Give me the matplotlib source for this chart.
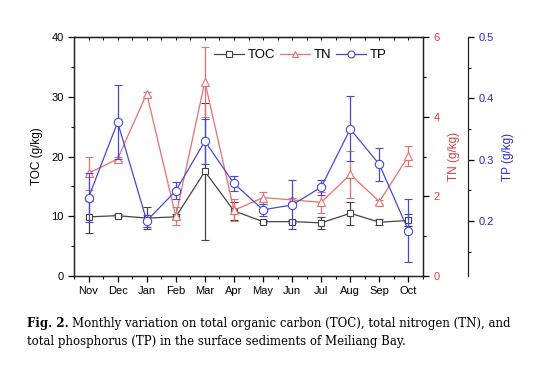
import numpy as np
import matplotlib.pyplot as plt
from matplotlib.ticker import MultipleLocator
from matplotlib.lines import Line2D

plt.rcParams['font.family'] = ['Liberation Sans', 'DejaVu Sans']

months = ['Nov', 'Dec', 'Jan', 'Feb', 'Mar', 'Apr', 'May', 'Jun', 'Jul', 'Aug', 'Sep', 'Oct']

toc = [9.9, 10.1, 9.7, 9.9, 17.5, 10.9, 9.1, 9.1, 8.9, 10.5, 9.0, 9.3]
toc_err = [2.7, 0.3, 1.8, 0.4, 11.5, 1.5, 0.3, 0.3, 1.0, 1.9, 0.5, 1.0]

tn = [2.58, 2.94, 4.58, 1.50, 4.88, 1.65, 1.97, 1.91, 1.85, 2.55, 1.87, 3.01]
tn_err = [0.42, 0.05, 0.05, 0.23, 0.88, 0.28, 0.15, 0.05, 0.27, 0.60, 0.05, 0.26]

tp = [0.238, 0.361, 0.200, 0.249, 0.330, 0.261, 0.218, 0.226, 0.255, 0.350, 0.292, 0.184]
tp_err = [0.040, 0.060, 0.010, 0.014, 0.037, 0.013, 0.010, 0.040, 0.012, 0.053, 0.027, 0.051]

c_toc = '#444444'
c_tn = '#e87070'
c_tp = '#4848d8'
c_tn_ax = '#e03c3c'
c_tp_ax = '#2a2ad0'

x = np.arange(len(months))

fig = plt.figure(figsize=(5.39, 3.74), dpi=100)
ax = fig.add_axes([0.1373, 0.262, 0.6475, 0.639])
ax2 = ax.twinx()
ax3 = ax.twinx()
ax3.spines['right'].set_position(('axes', 1.129))

# 三组数据带误差棒
kw = dict(lw=0.9, capsize=3, elinewidth=0.9, capthick=0.9,
          markerfacecolor='white', markeredgewidth=0.8)
ax.errorbar(x, toc, yerr=toc_err, color=c_toc, marker='s', markersize=5, **kw)
ax2.errorbar(x, tn, yerr=tn_err, color=c_tn, marker='^', markersize=6, **kw)
ax3.errorbar(x, tp, yerr=tp_err, color=c_tp, marker='o', markersize=6, **kw)

ax.set_xlim(-0.5, 11.5)
ax.set_ylim(0, 40)
ax2.set_ylim(0, 6)
ax3.set_ylim(0.11, 0.5)

ax.set_xticks(x)
ax.set_xticklabels(months)
ax.xaxis.set_minor_locator(MultipleLocator(0.5))
ax.yaxis.set_major_locator(MultipleLocator(10))
ax.yaxis.set_minor_locator(MultipleLocator(5))
ax2.yaxis.set_major_locator(MultipleLocator(2))
ax2.yaxis.set_minor_locator(MultipleLocator(1))
ax3.yaxis.set_major_locator(MultipleLocator(0.1))
ax3.yaxis.set_minor_locator(MultipleLocator(0.05))

ax.tick_params(axis='both', which='major', direction='out', length=4, width=0.9, labelsize=8)
ax.tick_params(axis='both', which='minor', direction='out', length=2.5, width=0.8)
ax2.tick_params(axis='y', which='major', direction='out', length=4, width=0.9, labelsize=8, labelcolor=c_tn_ax)
ax2.tick_params(axis='y', which='minor', direction='out', length=2.5, width=0.8)
ax3.tick_params(axis='y', which='major', direction='out', length=4, width=0.9, labelsize=8, labelcolor=c_tp_ax)
ax3.tick_params(axis='y', which='minor', direction='out', length=2.5, width=0.8)

# 顶部的小刻度朝内
top = ax.secondary_xaxis('top')
top.set_xticks(x)
top.xaxis.set_minor_locator(MultipleLocator(0.5))
top.tick_params(which='both', direction='in', length=2, width=0.7, labeltop=False)

for a in (ax, ax2, ax3):
    for s in a.spines.values():
        s.set_linewidth(0.9)
        s.set_color('#222222')
ax3.spines['left'].set_visible(False)
ax3.spines['top'].set_visible(False)
ax3.spines['bottom'].set_visible(False)

ax.set_ylabel('TOC (g/kg)', fontsize=8.5, labelpad=6)
ax2.set_ylabel('TN (g/kg)', fontsize=8.5, color=c_tn_ax, labelpad=6)
ax3.set_ylabel('TP (g/kg)', fontsize=8.5, color=c_tp_ax, labelpad=6)

hs = [Line2D([], [], color=c_toc, lw=0.9, marker='s', markersize=4, markerfacecolor='white', markeredgewidth=0.8),
      Line2D([], [], color=c_tn, lw=0.9, marker='^', markersize=5, markerfacecolor='white', markeredgewidth=0.8),
      Line2D([], [], color=c_tp, lw=0.9, marker='o', markersize=5, markerfacecolor='white', markeredgewidth=0.8)]
ax.legend(hs, ['TOC', 'TN', 'TP'], ncol=3, loc='upper right', frameon=False,
          fontsize=9.5, handlelength=2.3, columnspacing=0.3, handletextpad=0.3,
          bbox_to_anchor=(0.93, 1.0))

# 图注
cap1 = 'Monthly variation on total organic carbon (TOC), total nitrogen (TN), and'
cap2 = 'total phosphorus (TP) in the surface sediments of Meiliang Bay.'
t0 = fig.text(0.05, 0.125, 'Fig. 2.', fontsize=8.5, family='DejaVu Serif', weight='bold')
r = fig.canvas.get_renderer()
w = t0.get_window_extent(r).width / fig.bbox.width
fig.text(0.05 + w + 0.006, 0.125, cap1, fontsize=8.5, family='DejaVu Serif')
fig.text(0.05, 0.077, cap2, fontsize=8.5, family='DejaVu Serif')

fig.savefig('out.png', dpi=100)
